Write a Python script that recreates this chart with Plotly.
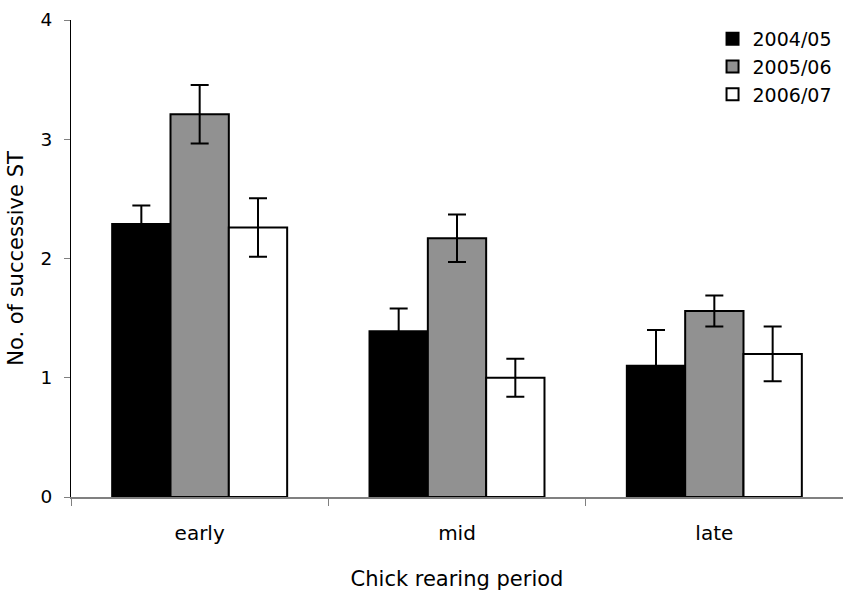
import plotly.graph_objects as go

categories = ["early", "mid", "late"]
series_names = ["2004/05", "2005/06", "2006/07"]
values_0405 = [2.29, 1.39, 1.10]
values_0506 = [3.21, 2.17, 1.56]
values_0607 = [2.26, 1.00, 1.20]
err_0405 = [0.155, 0.19, 0.30]
err_0506 = [0.245, 0.20, 0.13]
err_0607 = [0.245, 0.16, 0.23]
fills = ["#000000", "#919191", "#ffffff"]

FONT = "DejaVu Sans, Verdana, sans-serif"

fig = go.Figure()
for name, vals, errs, col in zip(series_names,
                                 [values_0405, values_0506, values_0607],
                                 [err_0405, err_0506, err_0607], fills):
    fig.add_trace(go.Bar(
        x=categories, y=vals, name=name,
        marker=dict(color=col, line=dict(color="#000000", width=2)),
        error_y=dict(type="data", array=errs, visible=True,
                     color="#000000", thickness=2, width=9),
    ))

fig.update_layout(
    width=843, height=594,
    margin=dict(l=71, r=0, t=20, b=97),
    paper_bgcolor="white", plot_bgcolor="white",
    barmode="group", bargap=0.32, bargroupgap=0,
    font=dict(family=FONT, size=18, color="#000000"),
    showlegend=True,
    legend=dict(x=0.831, xanchor="left", y=1.0, yanchor="top",
                bgcolor="rgba(0,0,0,0)", font=dict(size=19),
                itemwidth=30, tracegroupgap=0),
    xaxis=dict(
        title=dict(text="Chick rearing period", standoff=28, font=dict(size=21)),
        showline=True, linecolor="#808080", linewidth=1.5,
        ticks="outside", tickson="boundaries", ticklen=7, tickcolor="#808080",
        tickfont=dict(size=20), ticklabelstandoff=17,
        showgrid=False, zeroline=False,
    ),
    yaxis=dict(
        title=dict(text="No. of successive ST", standoff=11, font=dict(size=21)),
        range=[0, 4], dtick=1,
        showline=True, linecolor="#000000", linewidth=1,
        ticks="outside", ticklen=6, tickcolor="#808080",
        tickfont=dict(size=18.5), ticklabelstandoff=8,
        showgrid=False, zeroline=False,
    ),
)

fig.write_html("out.html")
